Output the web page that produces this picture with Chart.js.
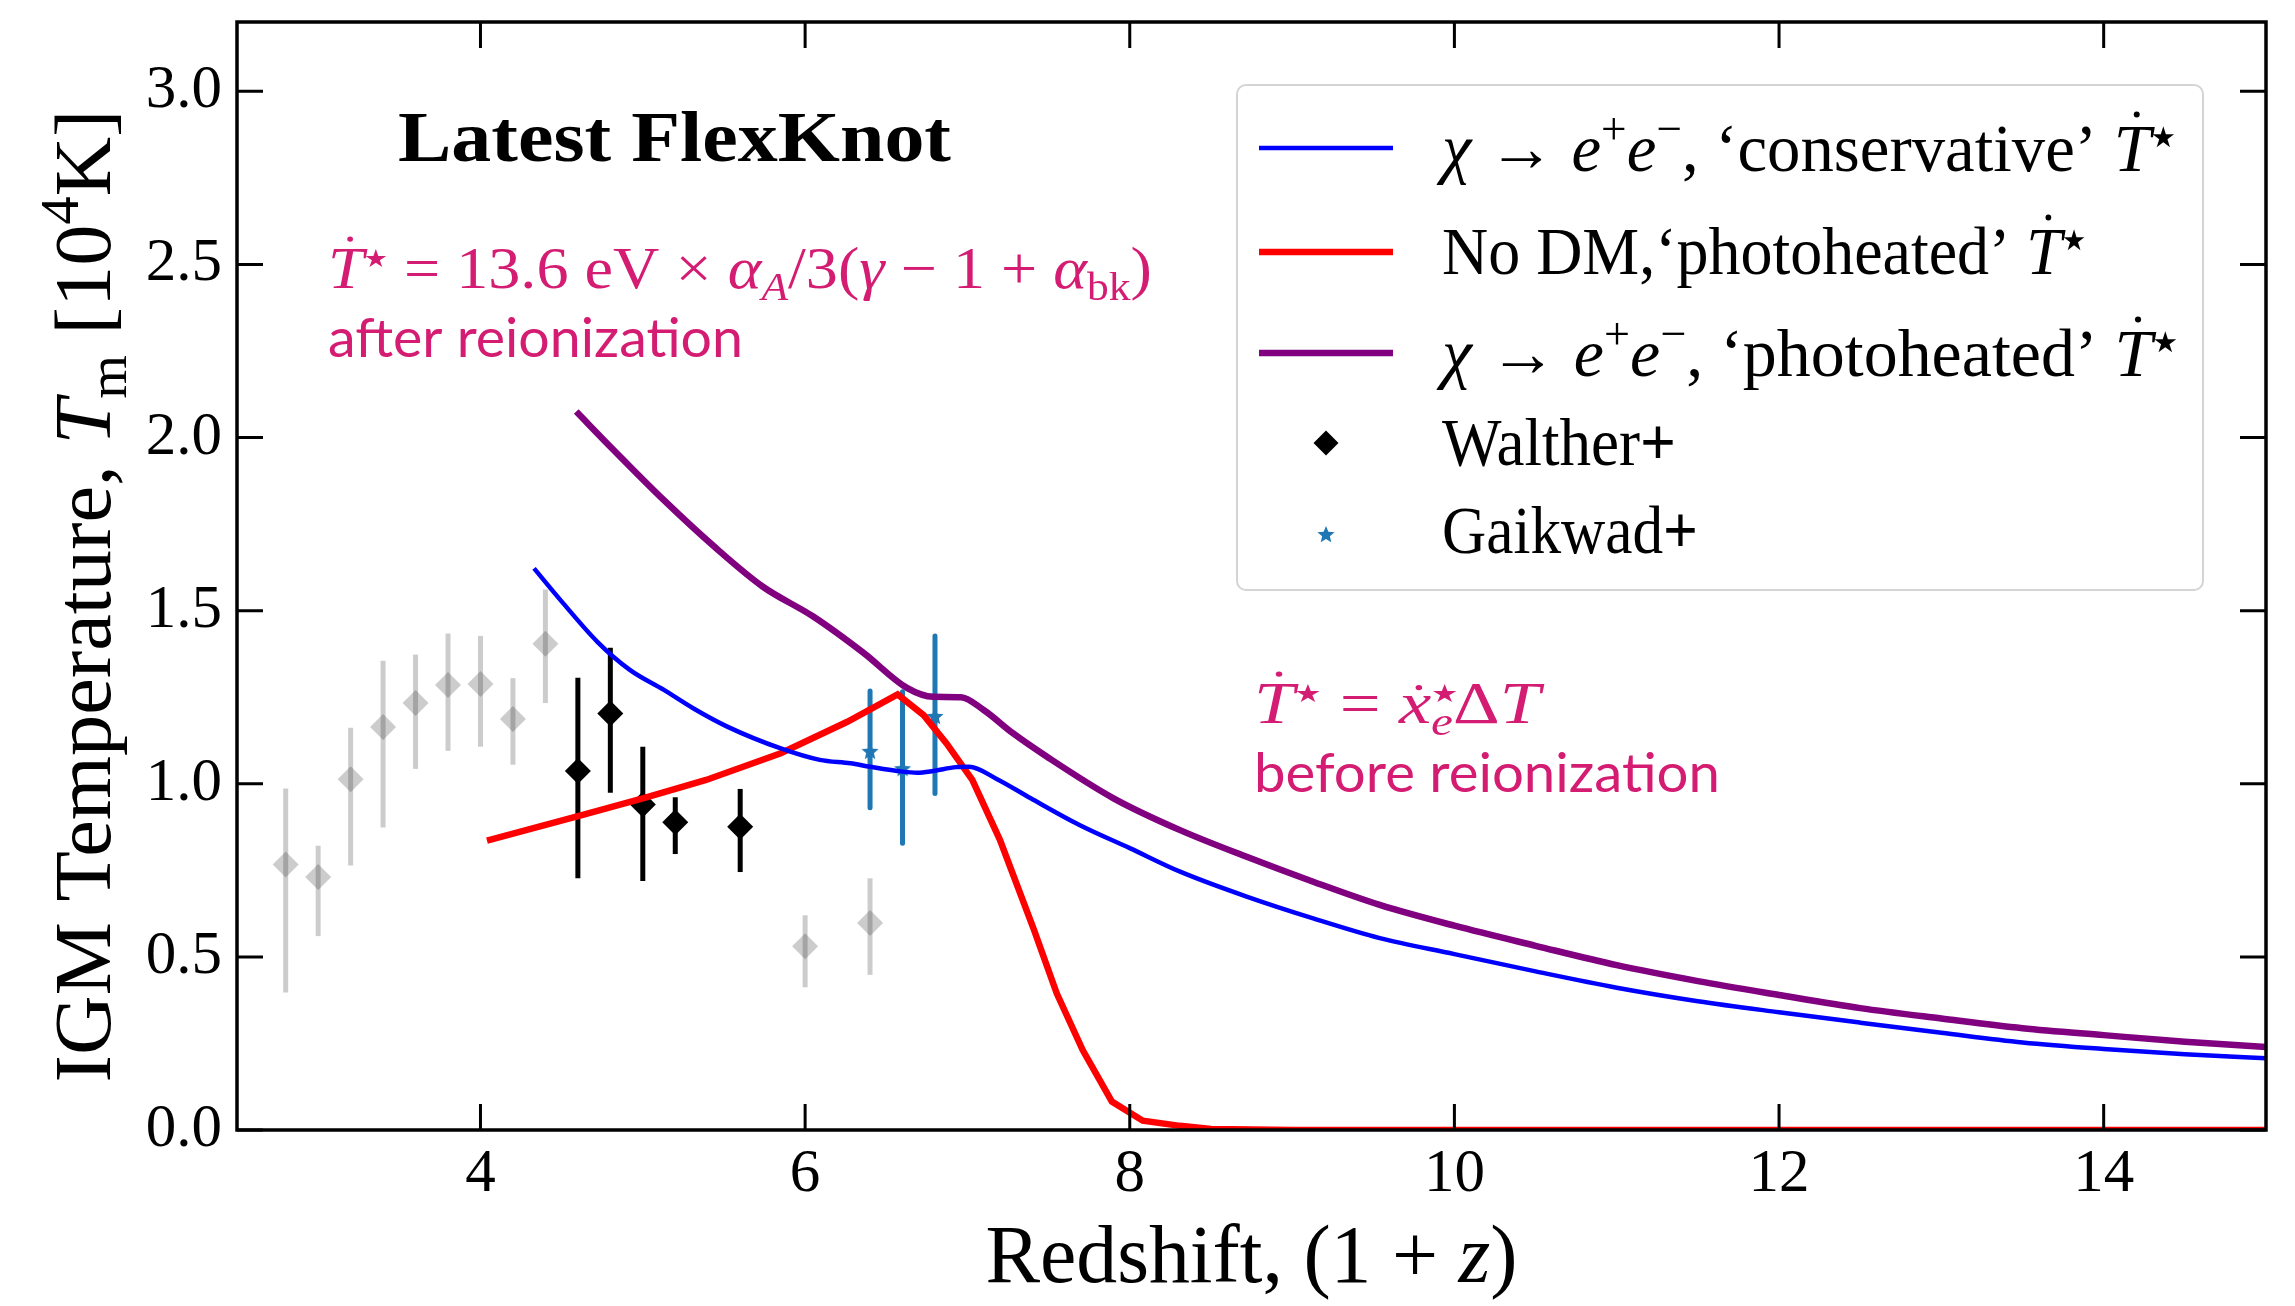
<!DOCTYPE html>
<html>
<head>
<meta charset="utf-8">
<script src="https://cdn.jsdelivr.net/npm/chart.js@4/dist/chart.umd.min.js"></script>
<style>
  html, body { margin: 0; padding: 0; background: #ffffff; }
  canvas { display: block; }
</style>
</head>
<body>
<canvas id="tm" width="2295" height="1306" style="width:2295px;height:1306px"></canvas>
<script>
// Axis ticks
const xTicks = [4, 6, 8, 10, 12, 14];
const yTicks = [0.0, 0.5, 1.0, 1.5, 2.0, 2.5, 3.0];

// chi -> e+e-, 'conservative' T-dot
const blueZ = [4.33, 4.51, 4.72, 4.92, 5.13, 5.31, 5.52, 5.85, 6.09, 6.28, 6.40, 6.60, 6.69, 6.79, 6.93, 7.01, 7.18, 7.39, 7.69, 8.00, 8.31, 8.72, 9.13, 9.54, 10.0, 10.5, 11.0, 11.5, 12.0, 12.5, 13.0, 13.5, 14.0, 14.5, 15.0];
const blueT = [1.622, 1.521, 1.410, 1.329, 1.271, 1.218, 1.165, 1.102, 1.069, 1.059, 1.049, 1.035, 1.032, 1.037, 1.048, 1.049, 1.014, 0.958, 0.881, 0.814, 0.746, 0.674, 0.611, 0.554, 0.508, 0.458, 0.411, 0.372, 0.340, 0.310, 0.281, 0.253, 0.234, 0.219, 0.207];

// No DM, 'photoheated' T-dot
const redZ = [4.04, 4.63, 5.00, 5.39, 5.85, 6.26, 6.57, 6.73, 6.87, 7.03, 7.20, 7.41, 7.55, 7.71, 7.89, 8.08, 8.31, 8.50, 9.0, 10.0, 11.0, 12.0, 13.0, 14.0, 15.0];
const redT = [0.836, 0.910, 0.958, 1.011, 1.088, 1.179, 1.258, 1.198, 1.117, 1.011, 0.838, 0.578, 0.395, 0.231, 0.082, 0.027, 0.012, 0.003, 0.0, 0.0, 0.0, 0.0, 0.0, 0.0, 0.0];

// chi -> e+e-, 'photoheated' T-dot
const purpleZ = [4.59, 4.82, 5.13, 5.44, 5.74, 6.05, 6.36, 6.63, 6.79, 6.96, 7.10, 7.28, 7.49, 7.90, 8.31, 8.72, 9.13, 9.54, 10.0, 10.5, 11.0, 11.5, 12.0, 12.5, 13.0, 13.5, 14.0, 14.5, 15.0];
const purpleT = [2.075, 1.964, 1.819, 1.685, 1.569, 1.483, 1.378, 1.276, 1.251, 1.250, 1.213, 1.146, 1.078, 0.958, 0.866, 0.789, 0.717, 0.650, 0.590, 0.532, 0.476, 0.430, 0.390, 0.352, 0.322, 0.294, 0.274, 0.255, 0.240];

// Older measurements (faded)
const grayZ  = [2.8, 3.0, 3.2, 3.4, 3.6, 3.8, 4.0, 4.2, 4.4, 6.0, 6.4];
const grayT  = [0.767, 0.731, 1.013, 1.164, 1.233, 1.285, 1.288, 1.187, 1.404, 0.531, 0.598];
const grayLo = [0.397, 0.560, 0.764, 0.874, 1.043, 1.095, 1.107, 1.055, 1.233, 0.412, 0.448];
const grayHi = [0.986, 0.821, 1.162, 1.355, 1.373, 1.434, 1.427, 1.305, 1.561, 0.620, 0.727];

// Walther+
const waltherZ  = [4.6, 4.8, 5.0, 5.2, 5.6];
const waltherT  = [1.037, 1.203, 0.940, 0.889, 0.876];
const waltherLo = [0.727, 0.974, 0.719, 0.797, 0.745];
const waltherHi = [1.306, 1.393, 1.107, 0.961, 0.985];

// Gaikwad+
const gaikwadZ  = [6.4, 6.6, 6.8];
const gaikwadT  = [1.095, 1.045, 1.196];
const gaikwadLo = [0.931, 0.828, 0.972];
const gaikwadHi = [1.268, 1.266, 1.427];

const pts = (xs, ys) => xs.map((x, i) => ({ x: x, y: ys[i] }));

const SERIF = '"Liberation Serif", "DejaVu Serif", serif';
const MAGENTA = '#d41c72';
const TAB_BLUE = '#1f77b4';

// filled five-pointed star used as a point style
function starImage(r, color) {
  const c = document.createElement('canvas');
  const s = Math.ceil(2 * r + 2);
  c.width = s; c.height = s;
  const g = c.getContext('2d');
  g.fillStyle = color;
  g.beginPath();
  for (let k = 0; k < 10; k++) {
    const rad = (k % 2) ? r * 0.45 : r;
    const a = -Math.PI / 2 + k * Math.PI / 5;
    const px = s / 2 + rad * Math.cos(a), py = s / 2 + 1 + rad * Math.sin(a);
    if (k === 0) g.moveTo(px, py); else g.lineTo(px, py);
  }
  g.closePath();
  g.fill();
  return c;
}
const starPt = starImage(9, TAB_BLUE);

// ---- mixed-style text (italic / sub / superscript / dot accent) ----
function fontFor(st, size) {
  let s = size;
  let fam = SERIF;
  if (st.includes('^') || st.includes('_')) s = size * 0.68;
  if (st.includes('k')) { s = size * 0.42; fam = '"DejaVu Sans", sans-serif'; }
  if (st.includes('s')) fam = 'Lato, "Open Sans", sans-serif';
  return (st.includes('i') ? 'italic ' : '') + (st.includes('b') ? 'bold ' : '') + s.toFixed(1) + 'px ' + fam;
}
function measureRich(ctx, parts, size) {
  let w = 0;
  for (const [t, st] of parts) {
    ctx.font = fontFor(st, size);
    if (!st.includes('o')) w += ctx.measureText(t).width;
  }
  return w;
}
function drawRich(ctx, parts, x, y, size, color, fitW, anchor) {
  ctx.save();
  const nat = measureRich(ctx, parts, size);
  const sx = fitW ? fitW / nat : 1;
  ctx.translate(x, y);
  ctx.scale(sx, 1);
  if (anchor === 'center') ctx.translate(-nat / 2, 0);
  ctx.fillStyle = color;
  ctx.textAlign = 'left';
  ctx.textBaseline = 'alphabetic';
  let cx = 0;
  for (const [t, st] of parts) {
    ctx.font = fontFor(st, size);
    let dy = 0;
    if (st.includes('^')) dy = -size * 0.40;
    if (st.includes('_')) dy = size * 0.20;
    if (st.includes('k')) dy = -size * 0.36;
    ctx.fillText(t, cx, dy);
    const w = ctx.measureText(t).width;
    if (st.includes('.')) {
      const h = /[a-z]/.test(t) ? 0.60 : 0.83;
      ctx.beginPath();
      ctx.arc(cx + w * 0.62, -size * h, size * 0.045, 0, Math.PI * 2);
      ctx.fill();
    }
    if (!st.includes('o')) cx += w;
  }
  ctx.restore();
}

// ---- error bars under the markers ----
const errorBars = {
  id: 'errorBars',
  beforeDatasetsDraw(chart) {
    const { ctx, chartArea: a, scales: { x, y } } = chart;
    ctx.save();
    ctx.beginPath();
    ctx.rect(a.left, a.top, a.right - a.left, a.bottom - a.top);
    ctx.clip();
    const groups = [
      [grayZ, grayLo, grayHi, 'rgba(0,0,0,0.2)', 5, 'butt'],
      [waltherZ, waltherLo, waltherHi, '#000000', 5, 'butt'],
      [gaikwadZ, gaikwadLo, gaikwadHi, TAB_BLUE, 5, 'round']
    ];
    for (const [zs, lo, hi, col, lw, cap] of groups) {
      ctx.strokeStyle = col;
      ctx.lineWidth = lw;
      ctx.lineCap = cap;
      zs.forEach((z, i) => {
        const px = x.getPixelForValue(z);
        ctx.beginPath();
        ctx.moveTo(px, y.getPixelForValue(lo[i]));
        ctx.lineTo(px, y.getPixelForValue(hi[i]));
        ctx.stroke();
      });
    }
    ctx.restore();
  }
};

// ---- axes frame with inward ticks on all four sides ----
const frame = {
  id: 'frame',
  afterDatasetsDraw(chart) {
    const { ctx, chartArea: a, scales: { x, y } } = chart;
    ctx.save();
    ctx.strokeStyle = '#000';
    ctx.lineWidth = 3;
    ctx.lineCap = 'butt';
    const L = 26;
    for (const v of xTicks) {
      const px = x.getPixelForValue(v);
      ctx.beginPath();
      ctx.moveTo(px, a.bottom); ctx.lineTo(px, a.bottom - L);
      ctx.moveTo(px, a.top); ctx.lineTo(px, a.top + L);
      ctx.stroke();
    }
    for (const v of yTicks) {
      const py = y.getPixelForValue(v);
      ctx.beginPath();
      ctx.moveTo(a.left, py); ctx.lineTo(a.left + L, py);
      ctx.moveTo(a.right, py); ctx.lineTo(a.right - L, py);
      ctx.stroke();
    }
    ctx.lineWidth = 3.5;
    ctx.strokeRect(a.left, a.top, a.right - a.left, a.bottom - a.top);
    ctx.restore();
  }
};

// ---- titles, annotations, legend ----
const decorations = {
  id: 'decorations',
  afterDraw(chart) {
    const { ctx, chartArea: a } = chart;
    const ds = chart.data.datasets;

    // axis titles
    drawRich(ctx, [['Redshift, (1 + ', ''], ['z', 'i'], [')', '']], (a.left + a.right) / 2, 1282, 82, '#000', 532, 'center');
    ctx.save();
    ctx.translate(110, 596);
    ctx.rotate(-Math.PI / 2);
    drawRich(ctx, [['IGM Temperature, ', ''], ['T', 'i'], ['m', '_'], [' [10', ''], ['4', '^'], ['K]', '']], 0, 0, 80, '#000', 973, 'center');
    ctx.restore();

    // panel title
    drawRich(ctx, [['Latest FlexKnot', 'b']], 398, 161, 71, '#000', 553);

    // heating-rate notes
    drawRich(ctx, [['T', 'i.'], ['★', 'k'], [' = 13.6 eV × ', ''], ['α', 'i'], ['A', '_i'], ['/3(', ''], ['γ', 'i'], [' − 1 + ', ''], ['α', 'i'], ['bk', '_'], [')', '']], 328, 288, 59, MAGENTA, 824);
    drawRich(ctx, [['after reionization', 's']], 328, 357, 55, MAGENTA, 415);
    drawRich(ctx, [['T', 'i.'], ['★', 'k'], [' = ', ''], ['x', 'i.'], ['★', 'ko'], ['e', '_i'], ['Δ', ''], ['T', 'i']], 1254, 723, 59, MAGENTA, 286);
    drawRich(ctx, [['before reionization', 's']], 1254, 792, 55, MAGENTA, 466);

    // legend box
    ctx.save();
    ctx.beginPath();
    ctx.roundRect(1237, 85, 966, 505, 9);
    ctx.fillStyle = 'rgba(255,255,255,0.8)';
    ctx.fill();
    ctx.strokeStyle = '#d4d4d4';
    ctx.lineWidth = 2;
    ctx.stroke();
    ctx.restore();

    const rows = [
      { y: 148, base: 171, line: ds[0], w: 734, parts: [['χ', 'i'], [' → ', ''], ['e', 'i'], ['+', '^'], ['e', 'i'], ['−', '^'], [', ‘conservative’ ', ''], ['T', 'i.'], ['★', 'k']] },
      { y: 252, base: 274, line: ds[1], w: 644, parts: [['No DM,‘photoheated’ ', ''], ['T', 'i.'], ['★', 'k']] },
      { y: 353, base: 376, line: ds[2], w: 736, parts: [['χ', 'i'], [' → ', ''], ['e', 'i'], ['+', '^'], ['e', 'i'], ['−', '^'], [', ‘photoheated’ ', ''], ['T', 'i.'], ['★', 'k']] },
      { y: 443, base: 465, mark: 'diamond', w: 234, parts: [['Walther', ''], ['+', 'b']] },
      { y: 534, base: 553, mark: 'star', w: 256, parts: [['Gaikwad', ''], ['+', 'b']] }
    ];
    for (const r of rows) {
      ctx.save();
      if (r.line) {
        ctx.strokeStyle = r.line.borderColor;
        ctx.lineWidth = r.line.borderWidth;
        ctx.beginPath();
        ctx.moveTo(1259, r.y); ctx.lineTo(1393, r.y);
        ctx.stroke();
      } else if (r.mark === 'diamond') {
        ctx.fillStyle = '#000';
        ctx.beginPath();
        ctx.moveTo(1326 - 12.5, r.y); ctx.lineTo(1326, r.y - 12.5);
        ctx.lineTo(1326 + 12.5, r.y); ctx.lineTo(1326, r.y + 12.5);
        ctx.closePath();
        ctx.fill();
      } else {
        ctx.drawImage(starPt, 1326 - starPt.width / 2, r.y - starPt.height / 2);
      }
      ctx.restore();
      drawRich(ctx, r.parts, 1442, r.base, 68, '#000', r.w);
    }
  }
};

const tickFont = { family: SERIF, size: 61, lineHeight: 1.0 };

new Chart(document.getElementById('tm'), {
  type: 'scatter',
  data: {
    datasets: [
      { label: 'conservative', data: pts(blueZ, blueT), showLine: true, borderColor: '#0000ff', borderWidth: 4.5, pointRadius: 0, cubicInterpolationMode: 'monotone', order: 0 },
      { label: 'no DM photoheated', data: pts(redZ, redT), showLine: true, borderColor: '#ff0000', borderWidth: 6.5, pointRadius: 0, tension: 0, order: 0 },
      { label: 'DM photoheated', data: pts(purpleZ, purpleT), showLine: true, borderColor: '#800080', borderWidth: 6.5, pointRadius: 0, cubicInterpolationMode: 'monotone', order: 0 },
      { label: 'earlier', data: pts(grayZ, grayT), pointStyle: 'rectRot', pointRadius: 13, backgroundColor: 'rgba(0,0,0,0.2)', borderWidth: 0, order: 3 },
      { label: 'Walther+', data: pts(waltherZ, waltherT), pointStyle: 'rectRot', pointRadius: 13, backgroundColor: '#000000', borderWidth: 0, order: 2 },
      { label: 'Gaikwad+', data: pts(gaikwadZ, gaikwadT), pointStyle: starPt, pointRadius: 9, backgroundColor: TAB_BLUE, borderWidth: 0, order: 1 }
    ]
  },
  options: {
    responsive: false,
    animation: false,
    devicePixelRatio: 1,
    layout: { padding: { top: 22, right: 29, left: 0, bottom: 0 } },
    plugins: { legend: { display: false }, tooltip: { enabled: false } },
    scales: {
      x: {
        type: 'linear', min: 2.5, max: 15,
        afterBuildTicks: s => { s.ticks = xTicks.map(v => ({ value: v })); },
        afterFit: s => { s.height = 176; s.paddingLeft = 0; s.paddingRight = 0; },
        ticks: { font: tickFont, color: '#000', padding: 14, maxRotation: 0, callback: v => String(v) },
        grid: { display: false, drawTicks: false },
        border: { display: false }
      },
      y: {
        type: 'linear', min: 0, max: 3.2,
        afterBuildTicks: s => { s.ticks = yTicks.map(v => ({ value: v })); },
        afterFit: s => { s.width = 237; s.paddingTop = 0; s.paddingBottom = 0; },
        ticks: { font: tickFont, color: '#000', padding: 15, callback: v => Number(v).toFixed(1) },
        grid: { display: false, drawTicks: false },
        border: { display: false }
      }
    }
  },
  plugins: [errorBars, frame, decorations]
});
</script>
</body>
</html>
